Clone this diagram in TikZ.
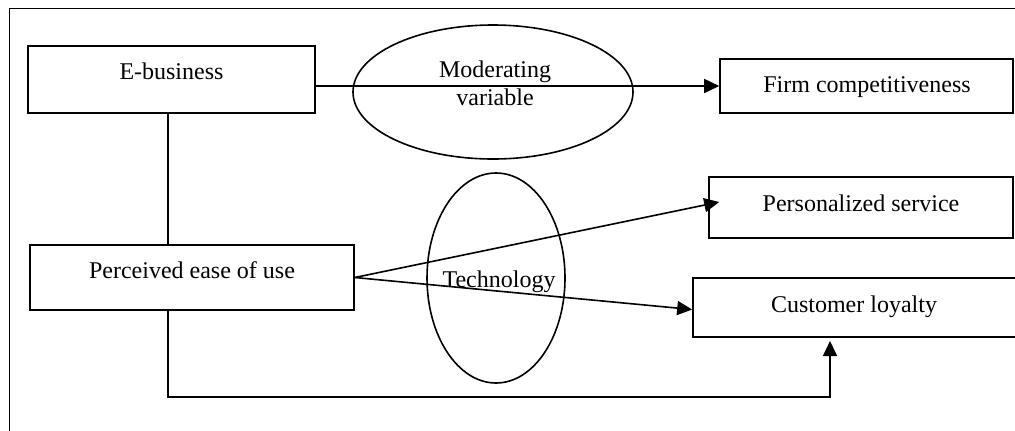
\documentclass[tikz,border=0pt]{standalone}
\usepackage{fontspec}
\setmainfont{Liberation Serif}
\usetikzlibrary{shapes.geometric,arrows.meta,calc}
\begin{document}
\begin{tikzpicture}[x=0.5pt,y=-0.5pt,
  box/.style={draw,line width=0.8pt,rectangle,inner sep=0pt},
  oval/.style={draw,line width=0.8pt,ellipse,inner sep=0pt},
  txt/.style={inner sep=0pt,anchor=base,font=\fontsize{12pt}{14pt}\selectfont},
  conn/.style={line width=0.8pt},
  arr/.style={conn,-{Triangle[length=7.5pt,width=7pt]}}]
\useasboundingbox (0,0) rectangle (1015,430);
\clip (0,0) rectangle (1015,430);
% outer frame (extends past the right and bottom edges)
\draw[line width=0.8pt] (9.5,8.5) rectangle (1060,470);

% boxes
\node[box,minimum width=143.5pt,minimum height=33.5pt] (ebiz) at (171.5,79.5) {};
\node[box,minimum width=146.5pt,minimum height=27pt] (firm) at (866.5,86) {};
\node[box,minimum width=162pt,minimum height=32.5pt] (peou) at (192,277.5) {};
\node[box,minimum width=152pt,minimum height=30.5pt] (ps) at (861,207.5) {};
\node[box,minimum width=166pt,minimum height=29.5pt] (cl) at (859,307.5) {};

% ellipses
\node[oval,minimum width=140pt,minimum height=67pt] (mod) at (493,92) {};
\node[oval,minimum width=69pt,minimum height=105pt] (tech) at (496,278) {};

% texts
\node[txt] (ebizt) at (171.5,79) {E-business};
\node[txt] (firmt) at (867,92) {Firm competitiveness};
\node[txt] (peout) at (192,278) {Perceived ease of use};
\node[txt] (pst) at (861,211) {Personalized service};
\node[txt] (clt) at (854,312) {Customer loyalty};
\node[txt] (modt1) at (495,77) {Moderating};
\node[txt] (modt2) at (495,105) {variable};
\node[txt] (techt) at (499,287) {Technology};

% helper coordinates
\coordinate (vx) at (168,0);
\coordinate (bot) at (168,397);
\coordinate (cltip) at (830,341);
\coordinate (pstip) at ($(ps.west)+(11,-5.5)$);

% connectors
\draw[arr] (ebiz.east |- firm.west) -- (firm.west);
\draw[conn] (ebiz.south -| vx) -- (peou.north -| vx);
\draw[arr] (peou.east) -- (pstip);
\draw[arr] (peou.east) -- ($(cl.west)+(0,2)$);
\draw[arr] (peou.south -| vx) -- (bot) -| (cltip);
\end{tikzpicture}
\end{document}
